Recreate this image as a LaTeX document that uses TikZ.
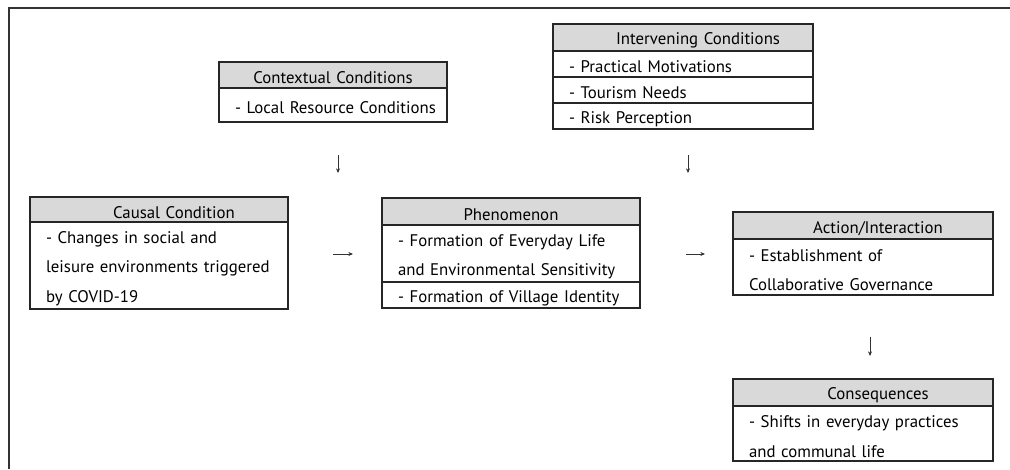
\documentclass[tikz,border=0pt]{standalone}
\usepackage{fontspec}
\setmainfont{PT Sans}[WordSpace=1.6]
\usetikzlibrary{positioning,arrows.meta}
\hyphenpenalty=10000
\exhyphenpenalty=10000

\tikzset{
  cell/.style={draw=black!85, line width=0.85pt, outer sep=0pt, inner xsep=12pt, inner ysep=0pt,
    font=\fontsize{12.6pt}{22pt}\selectfont, execute at begin node={\rule{0pt}{13.5pt}}},
  head/.style={cell, fill=black!15, align=center},
  row/.style={cell, align=left},
  flow/.style={-{Stealth[length=3.5pt,width=3pt]}, line width=0.45pt, black!80}
}

\begin{document}
\begin{tikzpicture}[x=0.75pt, y=-0.75pt]
    \useasboundingbox (0,0) rectangle (1010,469);

    % Frame (only top and left edges visible)
    \draw[line width=1pt, black!80] (9,469) -- (9,8) -- (1010,8);

    % Contextual conditions (top left)
    \node[head, anchor=north west, text width=147pt, minimum height=19.5pt] (ctx) at (219,62) {Contextual Conditions};
    \node[row, below=0pt of ctx, text width=147pt, minimum height=25.5pt] (ctx1) {\mbox{- Local Resource Conditions}};

    % Intervening conditions (top right)
    \node[head, anchor=north west, text width=171pt, minimum height=20.25pt] (int) at (553,24) {\hspace*{22.5pt}Intervening Conditions};
    \node[row, below=0pt of int, text width=171pt, minimum height=19.5pt] (int1) {- Practical Motivations};
    \node[row, below=0pt of int1, text width=171pt, minimum height=19.5pt] (int2) {- Tourism Needs};
    \node[row, below=0pt of int2, text width=171pt, minimum height=19.5pt] (int3) {- Risk Perception};

    % Causal condition (left)
    \node[head, anchor=north west, text width=169.5pt, minimum height=18.75pt] (cau) at (30,197) {\hspace*{22.5pt}Causal Condition};
    \node[row, below=0pt of cau, text width=169.5pt, minimum height=65.25pt] (cau1) {- Changes in social and\\leisure environments triggered\\by COVID-19};

    % Phenomenon (centre)
    \node[head, anchor=north west, text width=169.5pt, minimum height=20.25pt] (phe) at (382,198) {Phenomenon};
    \node[row, below=0pt of phe, text width=169.5pt, minimum height=42.75pt] (phe1) {- Formation of Everyday Life\\and Environmental Sensitivity};
    \node[row, below=0pt of phe1, text width=169.5pt, minimum height=19.5pt] (phe2) {- Formation of Village Identity};

    % Action/interaction (right)
    \node[head, anchor=north west, text width=171pt, minimum height=20.25pt] (act) at (733,212) {\hspace*{22.5pt}Action/Interaction};
    \node[row, below=0pt of act, text width=171pt, minimum height=42pt] (act1) {- Establishment of\\Collaborative Governance};

    % Consequences (bottom right)
    \node[head, anchor=north west, text width=171pt, minimum height=20.25pt] (con) at (733,379) {\hspace*{22.5pt}Consequences};
    \node[row, below=0pt of con, text width=171pt, minimum height=41.25pt] (con1) {- Shifts in everyday practices\\and communal life};

    % Small arrows between the boxes
    \coordinate (d1a) at (338,155); \coordinate (d1b) at (338,173);
    \coordinate (d2a) at (688,155); \coordinate (d2b) at (688,173);
    \coordinate (r1a) at (333,254); \coordinate (r1b) at (353,254);
    \coordinate (r2a) at (686,254); \coordinate (r2b) at (705,254);
    \coordinate (d3a) at (870,337); \coordinate (d3b) at (870,356);
    \draw[flow] (d1a) -- (d1b);
    \draw[flow] (d2a) -- (d2b);
    \draw[flow] (r1a) -- (r1b);
    \draw[flow] (r2a) -- (r2b);
    \draw[flow] (d3a) -- (d3b);
\end{tikzpicture}
\end{document}
